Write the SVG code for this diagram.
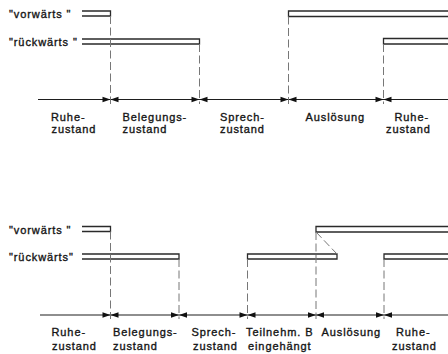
<svg xmlns="http://www.w3.org/2000/svg" width="448" height="354" viewBox="0 0 448 354">
<style>
text{font-family:"Liberation Sans",Arial,sans-serif;font-size:11px;letter-spacing:0.9px;fill:#151515;stroke:#151515;stroke-width:0.35}
.bar{fill:#fff;stroke:#2a2a2a;stroke-width:1.3}
.axis{stroke:#1e1e1e;stroke-width:1.2;fill:none}
.dash{stroke:#777;stroke-width:1;stroke-dasharray:8 3.5;fill:none}
</style>
<defs>
<g id="tk"><path d="M-8,-2.8 L0,0 L-8,2.8 Z M8,-2.8 L0,0 L8,2.8 Z" fill="#111"/></g>
</defs>
<rect width="448" height="354" fill="#fff"/>
<g id="top">
<g id="top-signals">
<text x="9" y="18">"vorwärts "</text>
<text x="9" y="46">"rückwärts "</text>
<path class="bar" d="M82,11 H110.5 V16 H82"/>
<path class="bar" d="M82,39 H199.5 V44 H82"/>
<path class="bar" d="M449,11 H288.5 V16.5 H449"/>
<path class="bar" d="M449,38.5 H383.5 V44 H449"/>
</g>
<g id="top-connectors">
<line class="axis" x1="38" y1="99.5" x2="448" y2="99.5"/>
<line class="dash" x1="110.5" y1="16" x2="110.5" y2="104"/>
<line class="dash" x1="199.5" y1="44" x2="199.5" y2="104"/>
<line class="dash" x1="288.5" y1="16.5" x2="288.5" y2="104"/>
<line class="dash" x1="383.5" y1="44" x2="383.5" y2="104"/>
<use href="#tk" x="110.5" y="99.5"/>
<use href="#tk" x="199.5" y="99.5"/>
<use href="#tk" x="288.5" y="99.5"/>
<use href="#tk" x="383.5" y="99.5"/>
</g>
<g id="top-labels">
<text x="51" y="121">Ruhe-</text><text x="51.5" y="133">zustand</text>
<text x="122.5" y="121">Belegungs-</text><text x="122.5" y="133">zustand</text>
<text x="220" y="121">Sprech-</text><text x="220" y="133">zustand</text>
<text x="305.5" y="121">Auslösung</text>
<text x="394.5" y="121">Ruhe-</text><text x="386" y="133">zustand</text>
</g>
</g>
<g id="bottom">
<g id="bottom-signals">
<text x="9" y="233.5">"vorwärts "</text>
<text x="9" y="261">"rückwärts"</text>
<path class="bar" d="M82,226.5 H110.5 V231.5 H82"/>
<path class="bar" d="M82,254 H179 V259 H82"/>
<path class="bar" d="M247.5,254 H337 V259 H247.5 Z"/>
<path class="bar" d="M449,226.5 H316 V232 H449"/>
<path class="bar" d="M449,254 H384 V259 H449"/>
</g>
<g id="bottom-connectors">
<line class="axis" x1="40" y1="315" x2="448" y2="315"/>
<line class="dash" x1="110.5" y1="231.5" x2="110.5" y2="319"/>
<line class="dash" x1="179" y1="259" x2="179" y2="319"/>
<line class="dash" x1="247.5" y1="259" x2="247.5" y2="319"/>
<line class="dash" x1="316" y1="232" x2="316" y2="319"/>
<line class="dash" x1="384" y1="259" x2="384" y2="319"/>
<line class="dash" x1="316" y1="232" x2="337" y2="254"/>
<use href="#tk" x="110.5" y="315"/>
<use href="#tk" x="179" y="315"/>
<use href="#tk" x="247.5" y="315"/>
<use href="#tk" x="316" y="315"/>
<use href="#tk" x="384" y="315"/>
</g>
<g id="bottom-labels">
<text x="51.5" y="335.5">Ruhe-</text><text x="52" y="350">zustand</text>
<text x="113" y="335.5">Belegungs-</text><text x="113" y="350">zustand</text>
<text x="191.5" y="335.5">Sprech-</text><text x="193" y="350">zustand</text>
<text x="246" y="335.5">Teilnehm. B</text><text x="248" y="350">eingehängt</text>
<text x="321.5" y="335.5">Auslösung</text>
<text x="396" y="335.5">Ruhe-</text><text x="392" y="350">zustand</text>
</g>
</g>
</svg>
